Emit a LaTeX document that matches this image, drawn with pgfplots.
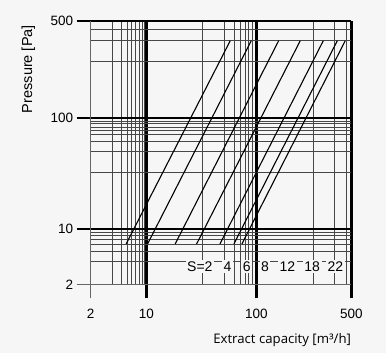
\documentclass[border=0pt]{standalone}
\usepackage{pgfplots}
\pgfplotsset{compat=1.18}
\usepackage{fontspec}
\setmainfont{Liberation Sans}
\newfontfamily\osans{Open Sans}
\definecolor{bg}{RGB}{246,246,246}
\begin{document}
\begin{tikzpicture}[x=1bp,y=1bp]
\fill[bg] (-90.7,-68.7) rectangle (295.3,284.3);
\path[use as bounding box] (-90.7,-68.7) rectangle (295.3,284.3);
\begin{axis}[
  at={(0,0)}, anchor=south west, scale only axis,
  width=260.8bp, height=263.3bp,
  xmode=log, ymode=log,
  xmin=3.12, xmax=730, ymin=3.16, ymax=745,
  axis line style={draw=none},
  xtick={10,100,730}, xticklabels={10,100,500},
  ytick={10,100,745}, yticklabels={10,100,500},
  extra x ticks={3.12}, extra x tick labels={2},
  extra y ticks={3.16}, extra y tick labels={2},
  extra tick style={grid=major, major tick style={black!60, line width=0.8bp}, major grid style={black!60, line width=0.8bp}},
  minor xtick={4.89,5.95,6.69,7.38,7.98,8.55,9.16,9.63,32.2,50.6,62.8,71.8,78.6,84.9,91,97.5,326,506,651},
  minor ytick={5.1,6.3,7.23,8.03,8.65,9.28,31.9,50.1,61.7,70.9,77.5,82.5,88.3,93.4,320,501,626},
  grid=both,
  major grid style={black, line width=2.5bp},
  minor grid style={black!72, line width=0.75bp},
  tick align=outside,
  major tick length=14bp,
  minor tick length=0pt,
  major tick style={black, line width=2.5bp},
  xtick pos=bottom, ytick pos=left,
  tick label style={font=\fontsize{13.5bp}{15bp}\selectfont},
  xticklabel style={yshift=-7bp},
  clip=false,
]
\addplot[black, line width=1.1bp] coordinates {(6.55,7.3) (57.8,495)};
\addplot[black, line width=1.1bp] coordinates {(10.25,7.3) (89.7,495)};
\addplot[black, line width=1.1bp] coordinates {(18.27,7.3) (159.1,495)};
\addplot[black, line width=1.1bp] coordinates {(28.6,7.3) (250,495)};
\addplot[black, line width=1.1bp] coordinates {(46.6,7.3) (404.8,495)};
\addplot[black, line width=1.1bp] coordinates {(62.4,7.3) (542.7,495)};
\addplot[black, line width=1.1bp] coordinates {(73.8,7.3) (641,495)};
\begin{scope}[every node/.style={fill=bg, inner sep=1.5bp, font=\fontsize{14bp}{16bp}\selectfont}]
\node at (axis cs:30.6,4.55) {S=2};
\node at (axis cs:54.7,4.55) {4};
\node at (axis cs:81.5,4.55) {6};
\node at (axis cs:119.4,4.55) {8};
\node at (axis cs:190.6,4.55) {12};
\node at (axis cs:321,4.55) {18};
\node at (axis cs:520,4.55) {22};
\end{scope}
\end{axis}
\node[font=\osans\fontsize{13.2bp}{15bp}\selectfont, anchor=east, inner sep=0] at (260.5,-55.7) {Extract capacity [m³/h]};
\node[rotate=90, anchor=east, inner sep=0, font=\fontsize{14.5bp}{16bp}\selectfont] at (-62.4,259.3) {Pressure [Pa]};
\end{tikzpicture}
\end{document}
